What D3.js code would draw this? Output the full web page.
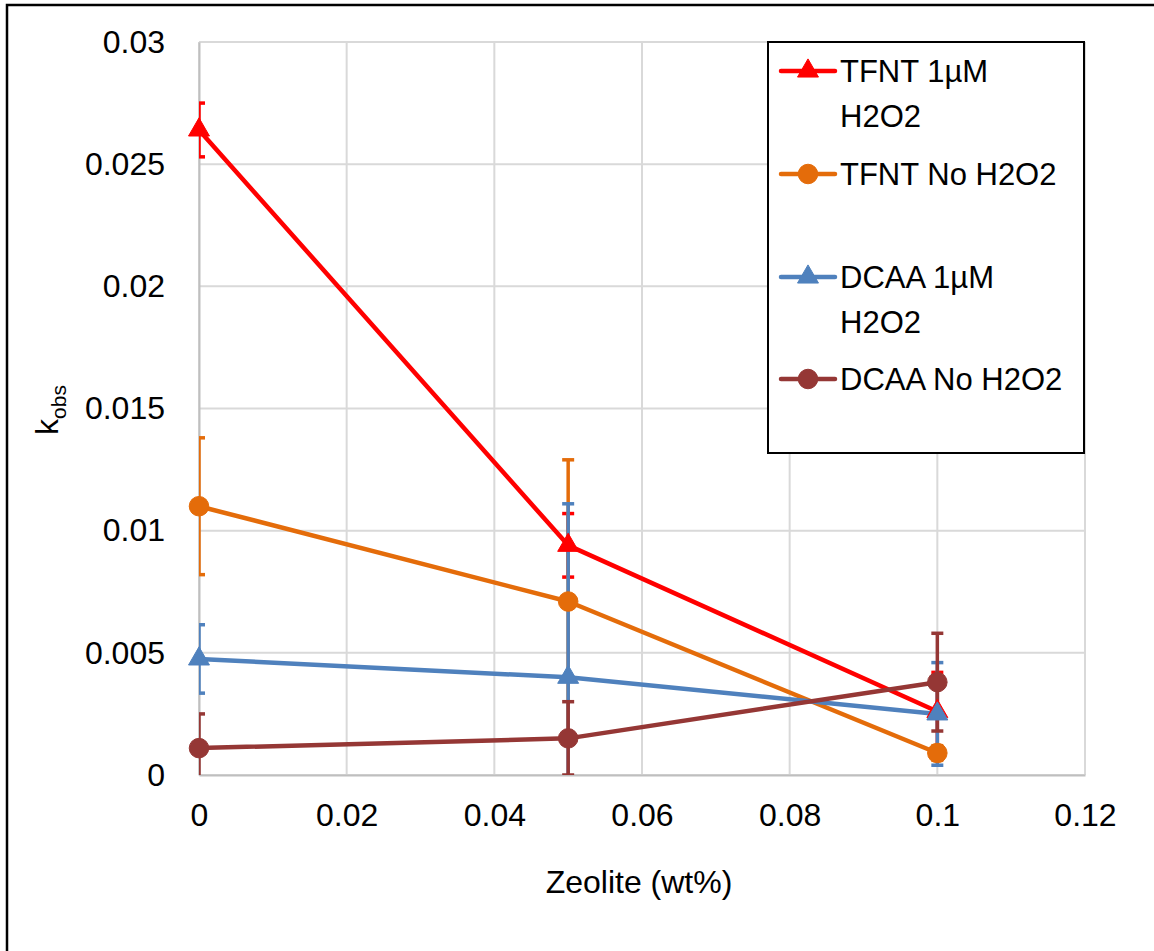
<!DOCTYPE html>
<html>
<head>
<meta charset="utf-8">
<script src="https://cdn.jsdelivr.net/npm/d3@7"></script>
<style>
  html, body { margin: 0; padding: 0; background: #fff; }
  svg { display: block; }
  text { font-family: "Liberation Sans", Arial, sans-serif; fill: #000; }
</style>
</head>
<body>
<svg id="chart" width="1154" height="951"></svg>
<script>
// ---- data ----
const zeolite = [0, 0.05, 0.1];
const seriesNames = ["TFNT 1µM H2O2", "TFNT No H2O2", "DCAA 1µM H2O2", "DCAA No H2O2"];
const tfnt1uM   = [0.0264, 0.0094, 0.0026];
const tfnt1uMErr = [0.0011, 0.0013, 0.0016];
const tfntNo    = [0.0110, 0.0071, 0.0009];
const tfntNoErr = [0.0028, 0.0058, 0.0003];
const dcaa1uM   = [0.00475, 0.0040, 0.0025];
const dcaa1uMErr = [0.0014, 0.0071, 0.0021];
const dcaaNo    = [0.0011, 0.0015, 0.0038];
const dcaaNoErr = [0.0014, 0.0015, 0.0020];
const xTicks = [0, 0.02, 0.04, 0.06, 0.08, 0.1, 0.12];
const xTickLabels = ["0", "0.02", "0.04", "0.06", "0.08", "0.1", "0.12"];
const yTicks = [0, 0.005, 0.01, 0.015, 0.02, 0.025, 0.03];
const yTickLabels = ["0", "0.005", "0.01", "0.015", "0.02", "0.025", "0.03"];

const colors = ["#FF0000", "#E46C0A", "#4F81BD", "#953735"];
const shapes = ["triangle", "circle", "triangle", "circle"];
const values = [tfnt1uM, tfntNo, dcaa1uM, dcaaNo];
const errs = [tfnt1uMErr, tfntNoErr, dcaa1uMErr, dcaaNoErr];

const svg = d3.select("#chart");
const W = 1154, H = 951;
const m = {left: 199, right: 69, top: 42, bottom: 176};
const pw = W - m.left - m.right, ph = H - m.top - m.bottom;

// outer chart border (cropped at right/bottom)
svg.append("rect").attr("x", 7).attr("y", 5).attr("width", W).attr("height", H)
  .attr("fill", "none").attr("stroke", "#000").attr("stroke-width", 2.5);

const x = d3.scaleLinear().domain([0, 0.12]).range([m.left, m.left + pw]);
const y = d3.scaleLinear().domain([0, 0.03]).range([m.top + ph, m.top]);

const g = svg.append("g");

// gridlines
g.append("g").selectAll("line").data(xTicks).join("line")
  .attr("x1", d => x(d)).attr("x2", d => x(d))
  .attr("y1", y(0)).attr("y2", y(0.03))
  .attr("stroke", "#D9D9D9").attr("stroke-width", 2);
g.append("g").selectAll("line").data(yTicks).join("line")
  .attr("x1", x(0)).attr("x2", x(0.12))
  .attr("y1", d => y(d)).attr("y2", d => y(d))
  .attr("stroke", "#D9D9D9").attr("stroke-width", 2);

// axes (using d3 axis generators, styled Excel-like)
const xAxis = d3.axisBottom(x).tickValues(xTicks).tickFormat((d, i) => xTickLabels[i]).tickSize(0).tickPadding(28);
const xg = svg.append("g").attr("transform", `translate(0,${y(0)})`).call(xAxis);
xg.select(".domain").attr("stroke", "#BFBFBF").attr("stroke-width", 2);
xg.selectAll("text").attr("font-size", 32).attr("font-family", "Liberation Sans, Arial, sans-serif").attr("fill", "#000");

const yAxis = d3.axisLeft(y).tickValues(yTicks).tickFormat((d, i) => yTickLabels[i]).tickSize(0).tickPadding(34);
const yg = svg.append("g").attr("transform", `translate(${x(0)},0)`).call(yAxis);
yg.select(".domain").attr("stroke", "#BFBFBF").attr("stroke-width", 2);
yg.selectAll("text").attr("font-size", 32).attr("font-family", "Liberation Sans, Arial, sans-serif").attr("fill", "#000");

// axis titles
svg.append("text").attr("x", x(0.06) - 3).attr("y", 893).attr("text-anchor", "middle")
  .attr("font-size", 32).text("Zeolite (wt%)");
const yt = svg.append("text").attr("transform", "translate(58,410) rotate(-90)")
  .attr("text-anchor", "middle").attr("font-size", 32);
yt.append("tspan").text("k");
yt.append("tspan").attr("font-size", 21).attr("dy", 8).text("obs");

// clip for error bars
svg.append("clipPath").attr("id", "plotclip").append("rect")
  .attr("x", m.left).attr("y", m.top).attr("width", pw).attr("height", ph);

const eb = svg.append("g").attr("clip-path", "url(#plotclip)");
values.forEach((vals, si) => {
  const ge = eb.append("g").attr("stroke", colors[si]).attr("stroke-width", 3.5);
  vals.forEach((v, i) => {
    const e = errs[si][i];
    const cx = x(zeolite[i]);
    ge.append("line").attr("x1", cx).attr("x2", cx).attr("y1", y(v + e)).attr("y2", y(v - e));
    [v + e, v - e].forEach(t => {
      ge.append("line").attr("x1", cx - 6).attr("x2", cx + 6).attr("y1", y(t)).attr("y2", y(t));
    });
  });
});

// lines
const lineGen = d3.line().x((d, i) => x(zeolite[i])).y(d => y(d));
values.forEach((vals, si) => {
  svg.append("path").datum(vals).attr("d", lineGen)
    .attr("fill", "none").attr("stroke", colors[si]).attr("stroke-width", 4.5)
    .attr("stroke-linejoin", "round");
});

// markers
const triSym = d3.symbol().type(d3.symbolTriangle).size(190);
const cirSym = d3.symbol().type(d3.symbolCircle).size(300);
values.forEach((vals, si) => {
  svg.append("g").selectAll("path").data(vals).join("path")
    .attr("transform", (d, i) => `translate(${x(zeolite[i])},${y(d)})`)
    .attr("d", shapes[si] === "triangle" ? triSym : cirSym)
    .attr("fill", colors[si]).attr("stroke", colors[si]).attr("stroke-width", 1);
});

// legend
const lg = svg.append("g");
lg.append("rect").attr("x", 768).attr("y", 42).attr("width", 316).attr("height", 411)
  .attr("fill", "#fff").attr("stroke", "#000").attr("stroke-width", 2);
const legendRows = [
  {lineY: 71, lines: ["TFNT 1µM", "H2O2"], base: 82},
  {lineY: 174, lines: ["TFNT No H2O2"], base: 185},
  {lineY: 277, lines: ["DCAA 1µM", "H2O2"], base: 288},
  {lineY: 379, lines: ["DCAA No H2O2"], base: 390}
];
legendRows.forEach((r, si) => {
  lg.append("line").attr("x1", 781).attr("x2", 835).attr("y1", r.lineY).attr("y2", r.lineY)
    .attr("stroke", colors[si]).attr("stroke-width", 4.5).attr("stroke-linecap", "round");
  lg.append("path").attr("transform", `translate(808,${r.lineY})`)
    .attr("d", shapes[si] === "triangle" ? triSym : cirSym)
    .attr("fill", colors[si]).attr("stroke", colors[si]);
  const t = lg.append("text").attr("x", 840).attr("y", r.base).attr("font-size", 31);
  r.lines.forEach((s, k) => {
    t.append("tspan").attr("x", 840).attr("dy", k === 0 ? 0 : 45).text(s);
  });
});
</script>
</body>
</html>
